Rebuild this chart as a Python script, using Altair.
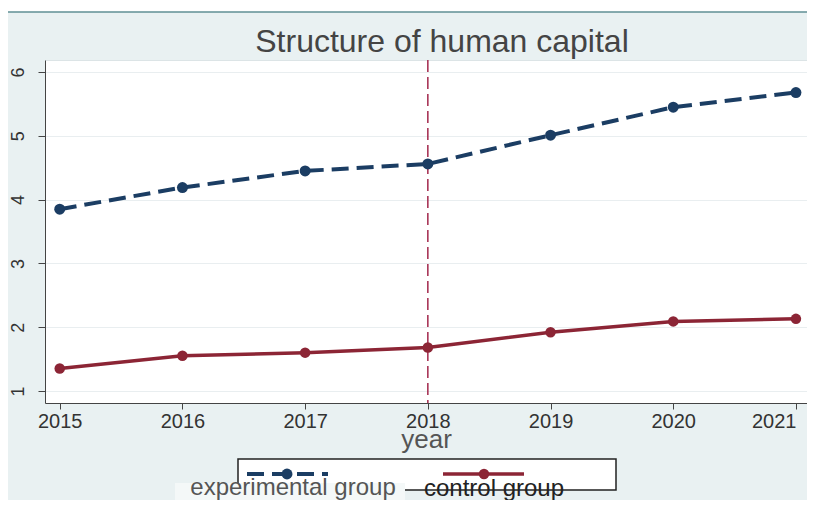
import altair as alt
import pandas as pd

years = [2015, 2016, 2017, 2018, 2019, 2020, 2021]
experimental = [3.85, 4.19, 4.45, 4.56, 5.01, 5.45, 5.68]
control = [1.35, 1.55, 1.60, 1.68, 1.92, 2.09, 2.13]
groups = ["experimental group", "control group"]
colors = ["#1b3d63", "#8c2535"]
event_year = [2018]
title_text = ["Structure of human capital"]

df = pd.DataFrame({
    "year": years * 2,
    "value": experimental + control,
    "group": [groups[0]] * len(years) + [groups[1]] * len(years),
})
exp_df = df[df.group == groups[0]]
ctl_df = df[df.group == groups[1]]

FONT = "Liberation Sans"
W, H = 762, 343

xs = alt.Scale(domain=[2014.88, 2021.09], nice=False, zero=False)
ys = alt.Scale(domain=[0.81, 6.19], nice=False, zero=False)

xenc = alt.X("year:Q", scale=xs, axis=alt.Axis(
    values=years, format="d", title="year", grid=False,
    labelFontSize=20, labelColor="#333333", labelFont=FONT,
    titleFontSize=26, titleColor="#555555", titleFont=FONT, titleFontWeight="normal",
    titlePadding=-5, tickSize=6, tickColor="#444444", domainColor="#444444",
    labelPadding=2, labelFlush=12, labelOverlap=False))
yenc = alt.Y("value:Q", scale=ys, axis=alt.Axis(
    values=[1, 2, 3, 4, 5, 6], format="d", title=None, grid=True, gridColor="#e9eef0",
    labelAngle=270, labelFontSize=18, labelColor="#333333", labelFont=FONT,
    tickSize=7, tickColor="#444444", domainColor="#444444", labelPadding=11))

base_exp = alt.Chart(exp_df)
base_ctl = alt.Chart(ctl_df)

exp_line = base_exp.mark_line(color=colors[0], strokeWidth=4, strokeDash=[17, 8]).encode(x=xenc, y=yenc)
exp_pts = base_exp.mark_circle(color=colors[0], size=120, opacity=1).encode(x="year:Q", y="value:Q")
ctl_line = base_ctl.mark_line(color=colors[1], strokeWidth=3.5).encode(x="year:Q", y="value:Q")
ctl_pts = base_ctl.mark_circle(color=colors[1], size=110, opacity=1).encode(x="year:Q", y="value:Q")

vline = alt.Chart(pd.DataFrame({"year": event_year})).mark_rule(
    color="#a3284c", strokeWidth=1.5, strokeDash=[12, 5]).encode(x="year:Q")

# decorations: top strip, title, legend box, legend symbols, legend labels
top_white = alt.Chart(pd.DataFrame({"a": [0]})).mark_rect(color="white").encode(
    x=alt.value(-40), x2=alt.value(770), y=alt.value(-52), y2=alt.value(-48))
top_line = alt.Chart(pd.DataFrame({"a": [0]})).mark_rule(color="#5f8f95", strokeWidth=1.5).encode(
    x=alt.value(-40), x2=alt.value(770), y=alt.value(-48))
title = alt.Chart(pd.DataFrame({"t": title_text})).mark_text(
    font=FONT, fontSize=32, color="#444444", align="center", baseline="alphabetic").encode(
    text="t:N", x=alt.value(397), y=alt.value(-8))

leg_box = alt.Chart(pd.DataFrame({"a": [0]})).mark_rect(
    fill="white", stroke="#222222", strokeWidth=1.5).encode(
    x=alt.value(193), x2=alt.value(571), y=alt.value(399), y2=alt.value(430))
leg_band = alt.Chart(pd.DataFrame({"a": [0]})).mark_rect(fill="#f4f8f8").encode(
    x=alt.value(130), x2=alt.value(360), y=alt.value(423), y2=alt.value(452))

leg_exp_line = alt.Chart(pd.DataFrame({"a": [0]})).mark_rule(
    color=colors[0], strokeWidth=4, strokeDash=[17, 8]).encode(
    x=alt.value(202), x2=alt.value(283), y=alt.value(414))
leg_exp_pt = alt.Chart(pd.DataFrame({"a": [0]})).mark_circle(
    color=colors[0], size=120, opacity=1).encode(x=alt.value(242), y=alt.value(414))
leg_ctl_line = alt.Chart(pd.DataFrame({"a": [0]})).mark_rule(
    color=colors[1], strokeWidth=3.5).encode(
    x=alt.value(398), x2=alt.value(479), y=alt.value(414))
leg_ctl_pt = alt.Chart(pd.DataFrame({"a": [0]})).mark_circle(
    color=colors[1], size=110, opacity=1).encode(x=alt.value(439), y=alt.value(414))

leg_exp_txt = alt.Chart(pd.DataFrame({"t": [groups[0]]})).mark_text(
    font=FONT, fontSize=24, color="#555555", align="center", baseline="alphabetic").encode(
    text="t:N", x=alt.value(248), y=alt.value(435))
leg_ctl_txt = alt.Chart(pd.DataFrame({"t": [groups[1]]})).mark_text(
    font=FONT, fontSize=24, color="#222222", align="center", baseline="alphabetic").encode(
    text="t:N", x=alt.value(449), y=alt.value(436))

chart = alt.layer(
    top_white, top_line, title,
    vline, exp_line, exp_pts, ctl_line, ctl_pts,
    leg_box, leg_band, leg_exp_line, leg_exp_pt, leg_ctl_line, leg_ctl_pt,
    leg_ctl_txt, leg_exp_txt,
).properties(
    width=W, height=H,
    autosize=alt.AutoSizeParams(type="none"),
    padding={"left": 37, "top": 52, "right": 0, "bottom": 97},
    background="#e9f1f2",
).configure_view(fill="white", stroke="#dce4e6", strokeWidth=1)

chart.save("out.html", embed_options={"renderer": "svg", "actions": False})
